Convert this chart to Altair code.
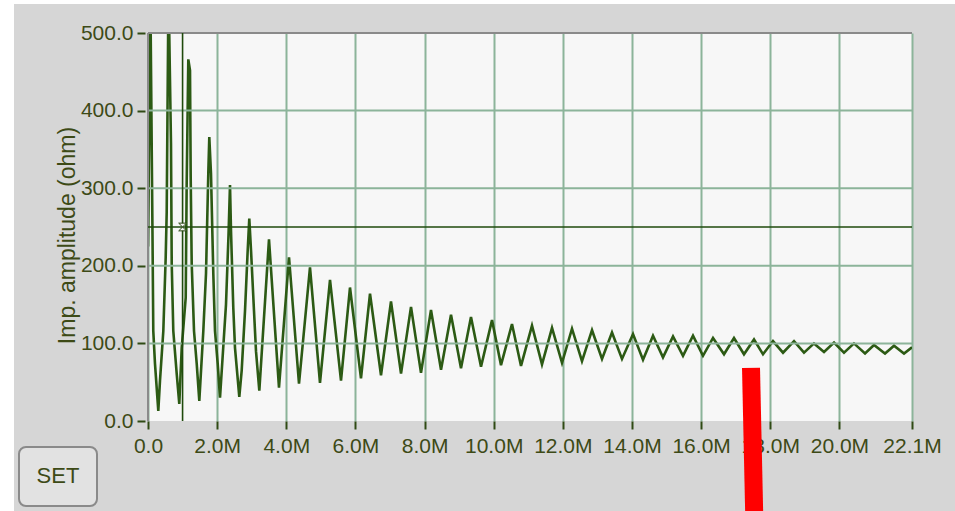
import altair as alt
import pandas as pd

# ---- data (x in MHz, y in ohm) ----
freq_m = [0.000, 0.072, 0.130, 0.153, 0.202, 0.298, 0.347, 0.443, 0.512, 0.541,
          0.593, 0.665, 0.686, 0.732, 0.830, 0.905, 0.975, 1.091, 1.119, 1.166,
          1.215, 1.235, 1.264, 1.331, 1.409, 1.484, 1.600, 1.678, 1.744, 1.773,
          1.822, 1.889, 1.938, 2.016, 2.083, 2.256, 2.329, 2.372, 2.401, 2.467,
          2.517, 2.641, 2.710, 2.806, 2.884, 2.930, 2.980, 3.066, 3.124, 3.220,
          3.500, 3.789, 4.079, 4.368, 4.686, 4.975, 5.265, 5.583, 5.843, 6.161,
          6.422, 6.740, 7.029, 7.319, 7.608, 7.897, 8.186, 8.476, 8.765, 9.054,
          9.343, 9.633, 9.951, 10.211, 10.529, 10.790, 11.108, 11.397, 11.687, 11.976,
          12.265, 12.554, 12.844, 13.133, 13.422, 13.711, 14.030, 14.319, 14.608, 14.897,
          15.187, 15.476, 15.765, 16.054, 16.344, 16.662, 16.951, 17.240, 17.530, 17.790,
          18.079, 18.369, 18.687, 18.976, 19.265, 19.555, 19.844, 20.133, 20.422, 20.741,
          21.001, 21.319, 21.580, 21.869, 22.100]
imp_ohm = [225, 530, 240, 116, 74, 13, 52, 116, 211, 269,
           560, 358, 203, 116, 61, 22, 94, 159, 306, 466,
           452, 314, 203, 116, 74, 26, 116, 190, 319, 366,
           319, 190, 116, 74, 30, 150, 240, 304, 245, 146,
           94, 31, 65, 142, 220, 261, 220, 142, 90, 39,
           234, 43, 211, 48, 198, 49, 182, 52, 172, 55,
           164, 59, 154, 61, 147, 62, 143, 66, 137, 68,
           134, 70, 130, 72, 125, 71, 123, 73, 120, 75,
           119, 77, 117, 80, 114, 80, 112, 79, 110, 82,
           109, 84, 110, 84, 107, 86, 107, 86, 105, 86,
           103, 88, 103, 88, 100, 89, 101, 88, 100, 87,
           98, 87, 97, 87, 95]

x_ticks = [0, 2, 4, 6, 8, 10, 12, 14, 16, 18, 20, 22.1]
y_ticks = [0, 100, 200, 300, 400, 500]
y_grid = [100, 200, 300, 400]

cursor_x = [1.0]
cursor_y = [250]

marker_x = [17.443, 17.54]
marker_y = [68.5, -129]

button_label = ["SET"]
y_title = "Imp. amplitude (ohm)"

# ---- styling ----
W, H = 764, 388
PAD_L, PAD_T, PAD_R, PAD_B = 148, 33, 43, 90
LABEL_FONT = "Liberation Sans, Arial, sans-serif"
TEXT_COLOR = "#3d4a16"
GRID_COLOR = "#8cb49a"
LINE_COLOR = "#2c5a14"

df = pd.DataFrame({"f": freq_m, "z": imp_ohm})
one = pd.DataFrame({"k": [0]})

xs = alt.Scale(domain=[0, 22.1], nice=False, zero=False)
ys = alt.Scale(domain=[0, 500], nice=False)

x_axis = alt.Axis(values=x_ticks, title=None,
                  labelExpr="datum.value == 0 ? '0.0' : format(datum.value, '.1f') + 'M'",
                  grid=True, gridColor=GRID_COLOR, gridWidth=2,
                  domain=False, tickSize=8, tickWidth=2, tickColor="#2f4a14",
                  labelFont=LABEL_FONT, labelFontSize=21, labelColor=TEXT_COLOR,
                  labelPadding=6, labelFlush=False, labelOverlap=False)
y_axis = alt.Axis(values=y_ticks, title=y_title,
                  labelExpr="format(datum.value, '.1f')",
                  grid=False, domain=False, offset=3,
                  tickSize=8, tickWidth=2, tickColor="#2f4a14",
                  labelFont=LABEL_FONT, labelFontSize=21, labelColor=TEXT_COLOR,
                  labelPadding=4, labelFlush=False, labelOverlap=False,
                  titleFont=LABEL_FONT, titleFontSize=23,
                  titleFontWeight="normal", titleColor=TEXT_COLOR,
                  titleAngle=270, titleBaseline="middle", titleAlign="center",
                  titleX=-78, titleY=202)

# page decoration: white strips at top and left of the gray panel
left_strip = alt.Chart(one).mark_rect(color="white").encode(
    x=alt.value(-PAD_L), x2=alt.value(14 - PAD_L),
    y=alt.value(-PAD_T), y2=alt.value(H + PAD_B))
top_strip = alt.Chart(one).mark_rect(color="white").encode(
    x=alt.value(-PAD_L), x2=alt.value(W + PAD_R),
    y=alt.value(-PAD_T), y2=alt.value(4 - PAD_T))

line = alt.Chart(df).mark_line(color=LINE_COLOR, strokeWidth=2.6, clip=True,
                               strokeJoin="miter").encode(
    x=alt.X("f:Q", scale=xs, axis=x_axis),
    y=alt.Y("z:Q", scale=ys, axis=y_axis))

ygrid = alt.Chart(pd.DataFrame({"g": y_grid})).mark_rule(
    color=GRID_COLOR, strokeWidth=2).encode(
    y=alt.Y("g:Q", scale=ys, axis=y_axis))

# plot frame (top and left gray edges)
frame_top = alt.Chart(one).mark_rule(color="#8a8a8a", strokeWidth=2).encode(
    x=alt.value(0), x2=alt.value(W), y=alt.value(0))
frame_left = alt.Chart(one).mark_rule(color="#8a8a8a", strokeWidth=2).encode(
    x=alt.value(0), y=alt.value(0), y2=alt.value(H))

# cursor
cur_h = alt.Chart(pd.DataFrame({"cy": cursor_y})).mark_rule(
    color="#1f4a0c", strokeWidth=1.6).encode(y=alt.Y("cy:Q", scale=ys, axis=y_axis))
cur_v = alt.Chart(pd.DataFrame({"cx": cursor_x})).mark_rule(
    color="#1f4a0c", strokeWidth=1.6).encode(x=alt.X("cx:Q", scale=xs, axis=x_axis))
cur_pt = alt.Chart(pd.DataFrame({"cx": cursor_x, "cy": cursor_y})).mark_point(
    shape="M-1,-1L1,-1L-1,1L1,1Z", size=60, filled=True, fill="#f4f4f4",
    stroke="#2c4a14", strokeWidth=1, opacity=1).encode(
    x=alt.X("cx:Q", scale=xs, axis=x_axis), y=alt.Y("cy:Q", scale=ys, axis=y_axis))

# red annotation bar
red = alt.Chart(pd.DataFrame({"mx": marker_x, "my": marker_y})).mark_line(
    color="#ff0000", strokeWidth=18, strokeCap="butt", clip=False).encode(
    x=alt.X("mx:Q", scale=xs, axis=x_axis), y=alt.Y("my:Q", scale=ys, axis=y_axis))

# SET button
btn = alt.Chart(one).mark_rect(
    fill="#e2e2e2", stroke="#8a8a8a", strokeWidth=2, cornerRadius=7).encode(
    x=alt.value(19 - PAD_L), x2=alt.value(97 - PAD_L),
    y=alt.value(447 - PAD_T), y2=alt.value(506 - PAD_T))
btn_txt = alt.Chart(pd.DataFrame({"t": button_label})).mark_text(
    font=LABEL_FONT, fontSize=22, color=TEXT_COLOR, align="center",
    baseline="middle").encode(
    text="t:N", x=alt.value(58 - PAD_L), y=alt.value(476 - PAD_T))

chart = alt.layer(
    left_strip, top_strip, line, ygrid, frame_top, frame_left,
    cur_h, cur_v, cur_pt, red, btn, btn_txt
).properties(
    width=W, height=H,
    autosize=alt.AutoSizeParams(type="none"),
    padding={"left": PAD_L, "top": PAD_T, "right": PAD_R, "bottom": PAD_B},
    background="#d6d6d6"
).configure_view(fill="#f7f7f7", stroke=None)

chart.save("out.html", embed_options={"renderer": "svg", "actions": False})
